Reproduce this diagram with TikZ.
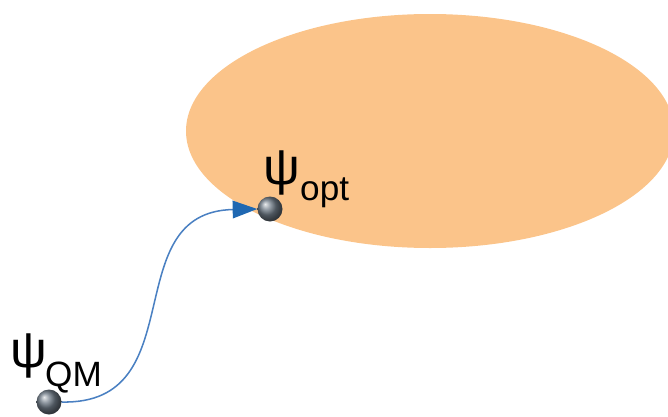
\documentclass[tikz,border=0pt]{standalone}
\usepackage{fontspec}
\setmainfont{Liberation Sans}
\usetikzlibrary{arrows.meta,shapes.geometric}
\definecolor{regionfill}{HTML}{FBC48A}
\definecolor{pathblue}{HTML}{4A80C2}
\definecolor{tipblue}{HTML}{1F68B2}
\definecolor{stategray}{HTML}{6E7A86}
\tikzset{
  state/.style={circle,minimum size=25*0.03cm,inner sep=0pt,shading=ball,ball color=stategray},
  psilabel/.style={inner sep=0pt,font=\fontsize{44pt}{44pt}\selectfont},
  sublabel/.style={inner sep=0pt,font=\fontsize{30pt}{30pt}\selectfont}
}
\begin{document}
\begin{tikzpicture}[x=0.03cm,y=-0.03cm]
  \useasboundingbox (0,0) rectangle (668,416);
  \begin{scope}
    \clip (0,0) rectangle (668,416);
    % region of admissible states
    \fill[regionfill] (430,131) ellipse [x radius=244, y radius=117];
  \end{scope}
  % states
  \node[state] (qm) at (49,402) {};
  \node[state] (opt) at (270,209) {};
  % labels
  \node[psilabel,anchor=base west] (psiqm) at (10,367) {ψ};
  \node[sublabel,anchor=base west] (subqm) at (45,386) {QM};
  \node[psilabel,anchor=base west] (psiopt) at (263,184) {ψ};
  \node[sublabel,anchor=base west] (subopt) at (300,200) {opt};
  % optimisation path
  \draw[pathblue,line width=1.3pt,-{Triangle[length=21pt,width=15pt,color=tipblue]}]
    (qm.east) .. controls (195,405) and (115,212) .. (opt.west);
\end{tikzpicture}
\end{document}
